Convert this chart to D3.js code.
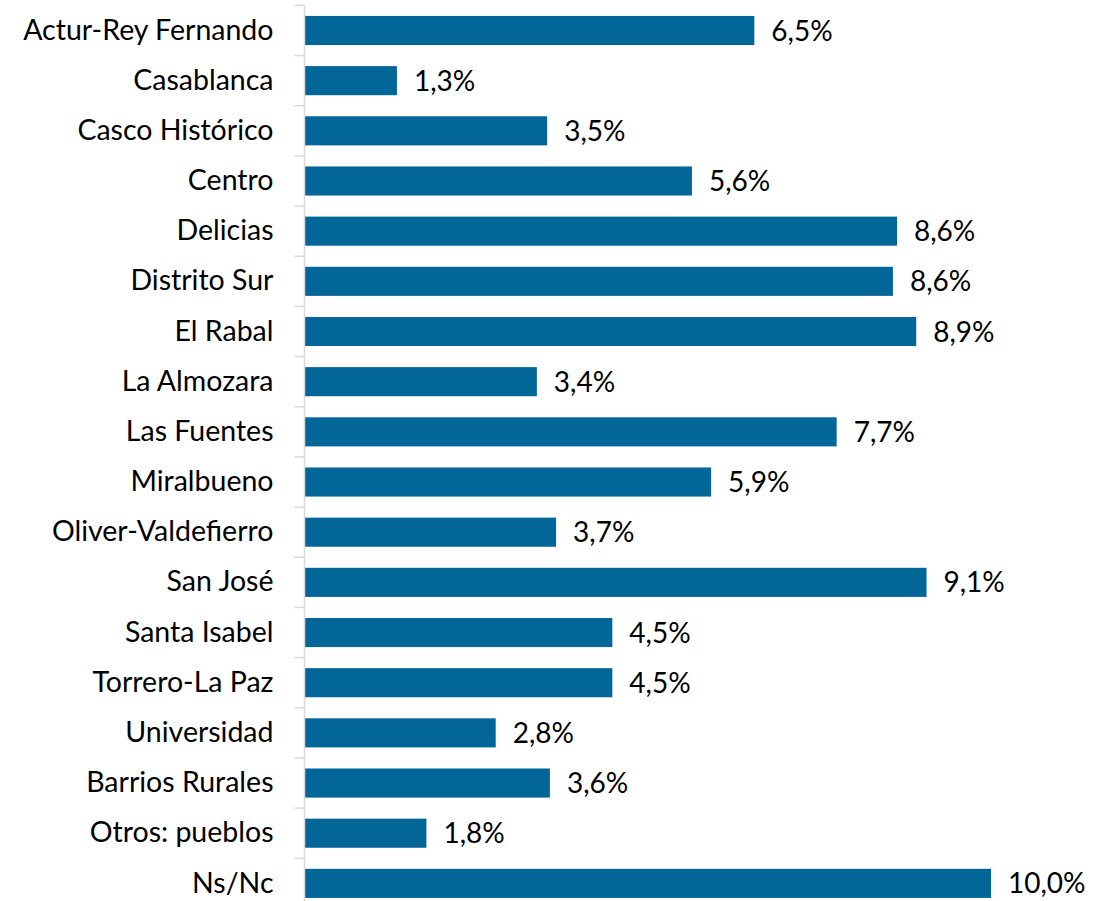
<!DOCTYPE html>
<html>
<head>
<meta charset="utf-8">
<script src="https://cdn.jsdelivr.net/npm/d3@7"></script>
<style>
  html, body { margin: 0; padding: 0; background: #fff; }
  svg { display: block; }
  text { font-family: Lato, "Open Sans", sans-serif; fill: #000; }
</style>
</head>
<body>
<svg id="chart" width="1094" height="901"></svg>
<script>
// Barrios (categories, top to bottom)
const barrios = [
    'Actur-Rey Fernando', 'Casablanca', 'Casco Histórico', 'Centro',
    'Delicias', 'Distrito Sur', 'El Rabal', 'La Almozara', 'Las Fuentes',
    'Miralbueno', 'Oliver-Valdefierro', 'San José', 'Santa Isabel',
    'Torrero-La Paz', 'Universidad', 'Barrios Rurales', 'Otros: pueblos', 'Ns/Nc'
];

// Percentages (bar length)
const porcentajes = [
    6.55, 1.34, 3.53, 5.64, 8.63, 8.57, 8.91, 3.38, 7.75,
    5.92, 3.66, 9.06, 4.48, 4.48, 2.78, 3.57, 1.77, 10.0
];

// Printed labels
const etiquetas = [
    '6,5%', '1,3%', '3,5%', '5,6%', '8,6%', '8,6%', '8,9%', '3,4%', '7,7%',
    '5,9%', '3,7%', '9,1%', '4,5%', '4,5%', '2,8%', '3,6%', '1,8%', '10,0%'
];

const data = barrios.map((b, i) => ({ barrio: b, valor: porcentajes[i], etiqueta: etiquetas[i] }));

const svg = d3.select('#chart');

const axisX = 304.5;
const plotTop = 5.4;
const step = 50.17;

const x = d3.scaleLinear()
    .domain([0, 10])
    .range([305, 991]);

const y = d3.scaleBand()
    .domain(barrios)
    .range([plotTop, plotTop + step * barrios.length])
    .paddingInner(0.42)
    .paddingOuter(0.21);

// Bars
svg.append('g')
    .selectAll('rect')
    .data(data)
    .join('rect')
    .attr('x', x(0))
    .attr('y', d => y(d.barrio))
    .attr('width', d => x(d.valor) - x(0))
    .attr('height', y.bandwidth())
    .attr('fill', '#036699');

// Value labels
svg.append('g')
    .selectAll('text')
    .data(data)
    .join('text')
    .attr('x', d => x(d.valor) + 17)
    .attr('y', d => y(d.barrio) + y.bandwidth() / 2)
    .attr('dy', '0.36em')
    .style('font-size', '28px')
    .text(d => d.etiqueta);

// Category axis (labels only)
const yAxis = svg.append('g')
    .attr('transform', `translate(${axisX},0)`)
    .call(d3.axisLeft(y).tickSize(0).tickPadding(31));
yAxis.select('.domain').remove();
yAxis.selectAll('text')
    .style('font-size', '28.5px')
    .style('font-family', 'Lato, "Open Sans", sans-serif')
    .attr('fill', '#000');

// Axis line and tick marks at band boundaries
const bounds = d3.range(barrios.length + 1).map(i => plotTop + i * step);
svg.append('line')
    .attr('x1', axisX).attr('x2', axisX)
    .attr('y1', plotTop).attr('y2', 901)
    .attr('stroke', '#d9d9d9')
    .attr('stroke-width', 1.5);
svg.append('g')
    .selectAll('line')
    .data(bounds)
    .join('line')
    .attr('x1', axisX - 10).attr('x2', axisX)
    .attr('y1', d => d).attr('y2', d => d)
    .attr('stroke', '#d9d9d9')
    .attr('stroke-width', 1.5);
</script>
</body>
</html>
